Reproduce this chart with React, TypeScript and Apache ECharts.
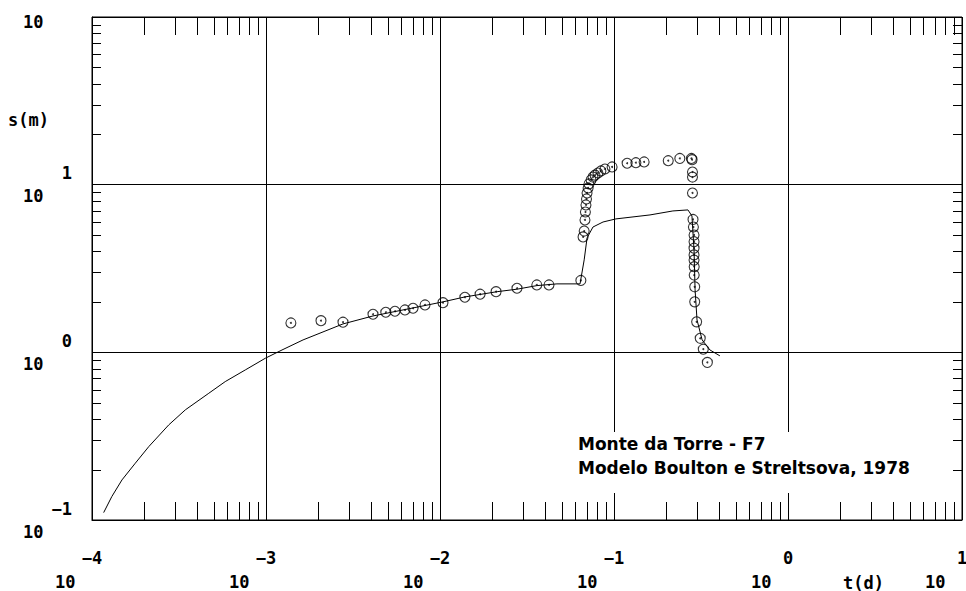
import React, { useEffect, useRef } from "react";
import * as echarts from "echarts";

// Observed drawdown (circles)
const obsT = [0.00139, 0.00207, 0.00277, 0.00412, 0.00488, 0.00551, 0.00629, 0.0070, 0.0082, 0.0104, 0.0139, 0.0170, 0.0210, 0.0277, 0.0360, 0.0423, 0.0645, 0.0664, 0.0674, 0.0681, 0.0685, 0.0690, 0.0695, 0.0700, 0.0710, 0.0718, 0.0738, 0.0757, 0.0778, 0.0809, 0.0841, 0.0887, 0.0975, 0.119, 0.1336, 0.149, 0.205, 0.239, 0.2786, 0.2810, 0.2825, 0.2825, 0.2825, 0.2845, 0.2860, 0.2884, 0.2884, 0.2884, 0.2884, 0.2884, 0.2890, 0.2890, 0.291, 0.291, 0.2985, 0.313, 0.326, 0.344];
const obsS = [1.497, 1.545, 1.512, 1.687, 1.734, 1.758, 1.790, 1.832, 1.917, 1.979, 2.131, 2.221, 2.301, 2.411, 2.523, 2.523, 2.683, 4.88, 5.29, 6.16, 6.87, 7.57, 8.22, 8.92, 9.56, 10.1, 10.67, 11.1, 11.4, 11.74, 12.07, 12.4, 12.75, 13.42, 13.52, 13.66, 13.9, 14.33, 14.33, 14.1, 11.9, 11.1, 8.92, 6.20, 5.59, 5.01, 4.57, 4.18, 3.81, 3.55, 3.24, 2.89, 2.46, 2.00, 1.52, 1.213, 1.044, 0.871];

// Model curve (Boulton & Streltsova)
const modelT = [1.167e-4, 1.30e-4, 1.487e-4, 1.774e-4, 2.12e-4, 2.76e-4, 3.44e-4, 4.69e-4, 5.83e-4, 7.60e-4, 9.91e-4, 1.236e-3, 1.633e-3, 2.77e-3, 4.12e-3, 7.0e-3, 0.0104, 0.0139, 0.0213, 0.0277, 0.036, 0.047, 0.0638, 0.0674, 0.0700, 0.0757, 0.0865, 0.1026, 0.161, 0.218, 0.266, 0.2805, 0.2884, 0.2924, 0.300, 0.321, 0.356, 0.406];
const modelS = [0.1107, 0.138, 0.1734, 0.2182, 0.274, 0.369, 0.454, 0.570, 0.669, 0.785, 0.922, 1.033, 1.186, 1.477, 1.648, 1.84, 2.0, 2.14, 2.30, 2.38, 2.50, 2.56, 2.56, 3.56, 4.81, 5.59, 5.99, 6.25, 6.60, 6.97, 7.07, 6.51, 4.08, 2.36, 1.56, 1.186, 1.033, 0.953];

// Axes
const X_MIN = 1e-4;
const X_MAX = 10;
const Y_MIN = 0.1;
const Y_MAX = 100;
const xDecades = [1e-4, 1e-3, 1e-2, 1e-1, 1];
const yDecades = [0.1, 1, 10];
const minorMultipliers = [2, 3, 4, 5, 6, 7, 8, 9];

const titleLines = ["Monte da Torre - F7", "Modelo Boulton e Streltsova, 1978"];
const xAxisName = "t(d)";
const yAxisName = "s(m)";

const MONO = "'DejaVu Sans Mono', monospace";
const SANS = "'DejaVu Sans', sans-serif";

export default function App() {
  const ref = useRef<HTMLDivElement>(null);

  useEffect(() => {
    if (!ref.current) return;
    const chart = echarts.init(ref.current, null, { renderer: "svg" });

    const obsData = obsT.map((t, i) => [t, obsS[i]]);
    const modelData = modelT.map((t, i) => [t, modelS[i]]);
    const xMinor: number[][] = [];
    xDecades.forEach((d) => minorMultipliers.forEach((m) => xMinor.push([d * m, 1])));
    const yMinor: number[][] = [];
    yDecades.forEach((d) => minorMultipliers.forEach((m) => yMinor.push([0.01, d * m])));

    const crisp = (v: number) => Math.round(v) + 0.5;
    const lineStyle = { stroke: "#000", lineWidth: 1 };

    const option: any = {
      animation: false,
      backgroundColor: "#fff",
      grid: {
        left: 92,
        top: 17,
        right: 4,
        bottom: 71,
        containLabel: false,
        outerBoundsMode: "none",
        show: true,
        borderColor: "#000",
        borderWidth: 1,
        backgroundColor: "transparent",
      },
      xAxis: {
        type: "log",
        logBase: 10,
        min: X_MIN,
        max: X_MAX,
        splitNumber: 5,
        axisLine: { show: true, lineStyle: { color: "#000", width: 1 } },
        axisTick: { show: false },
        splitLine: { show: true, lineStyle: { color: "#000", width: 1 } },
        axisLabel: {
          margin: 26,
          showMinLabel: true,
          showMaxLabel: true,
          hideOverlap: false,
          formatter: (v: number) => {
            const e = Math.round(Math.log10(v));
            const es = e < 0 ? "\u2212" + Math.abs(e) : String(e);
            return `{e|${es}}\n{b|10}`;
          },
          rich: {
            e: { width: 74, align: "center", fontFamily: MONO, fontWeight: "bold", fontSize: 17, lineHeight: 24, color: "#000" },
            b: { width: 74, align: "left", fontFamily: MONO, fontWeight: "bold", fontSize: 17, lineHeight: 24, color: "#000" },
          },
        },
      },
      yAxis: {
        type: "log",
        logBase: 10,
        min: Y_MIN,
        max: Y_MAX,
        splitNumber: 3,
        axisLine: { show: true, lineStyle: { color: "#000", width: 1 } },
        axisTick: { show: false },
        splitLine: { show: true, lineStyle: { color: "#000", width: 1 } },
        axisLabel: {
          margin: 20,
          align: "right",
          showMinLabel: true,
          showMaxLabel: true,
          hideOverlap: false,
          formatter: (v: number) => {
            const e = Math.round(Math.log10(v));
            if (e === 2) return "{t|10}";
            const es = e < 0 ? "\u2212" + Math.abs(e) : String(e);
            return `{e|${es}}\n{b|10}`;
          },
          rich: {
            e: { width: 49, align: "right", fontFamily: MONO, fontWeight: "bold", fontSize: 17, lineHeight: 23, color: "#000" },
            b: { width: 49, align: "left", fontFamily: MONO, fontWeight: "bold", fontSize: 17, lineHeight: 23, color: "#000" },
            t: { width: 49, align: "left", fontFamily: MONO, fontWeight: "bold", fontSize: 17, lineHeight: 23, color: "#000", padding: [10, 0, 0, 0] },
          },
        },
      },
      series: [
        {
          type: "custom",
          name: "xMinorTicks",
          coordinateSystem: "cartesian2d",
          clip: false,
          silent: true,
          data: xMinor,
          renderItem: (params: any, api: any) => {
            const v = api.value(0);
            const b = api.coord([v, Y_MIN]);
            const t = api.coord([v, Y_MAX]);
            const x = crisp(b[0]);
            return {
              type: "group",
              children: [
                { type: "line", shape: { x1: x, y1: b[1], x2: x, y2: b[1] - 18 }, style: lineStyle },
                { type: "line", shape: { x1: x, y1: t[1], x2: x, y2: t[1] + 18 }, style: lineStyle },
              ],
            };
          },
        },
        {
          type: "custom",
          name: "yMinorTicks",
          coordinateSystem: "cartesian2d",
          clip: false,
          silent: true,
          data: yMinor,
          renderItem: (params: any, api: any) => {
            const v = api.value(1);
            const l = api.coord([X_MIN, v]);
            const r = api.coord([X_MAX, v]);
            const y = crisp(l[1]);
            return {
              type: "group",
              children: [
                { type: "line", shape: { x1: l[0], y1: y, x2: l[0] + 9, y2: y }, style: lineStyle },
                { type: "line", shape: { x1: r[0], y1: y, x2: r[0] - 9, y2: y }, style: lineStyle },
              ],
            };
          },
        },
        {
          type: "line",
          name: "Modelo",
          data: modelData,
          showSymbol: false,
          symbol: "none",
          lineStyle: { color: "#000", width: 1 },
          z: 3,
        },
        {
          type: "scatter",
          name: "Observado",
          data: obsData,
          symbol: "circle",
          symbolSize: 10,
          itemStyle: { color: "transparent", borderColor: "#000", borderWidth: 1.1 },
          z: 4,
        },
        {
          type: "scatter",
          name: "ObservadoCentro",
          data: obsData,
          symbol: "circle",
          symbolSize: 2,
          itemStyle: { color: "#000" },
          z: 5,
        },
      ],
      graphic: [
        {
          type: "rect",
          shape: { x: 574, y: 432, width: 344, height: 61 },
          style: { fill: "#fff" },
          z: 10,
        },
        {
          type: "text",
          x: 578,
          y: 443.5,
          z: 11,
          style: { text: titleLines[0], font: `bold 17px ${SANS}`, fill: "#000", textVerticalAlign: "middle" },
        },
        {
          type: "text",
          x: 578,
          y: 468,
          z: 11,
          style: { text: titleLines[1], font: `bold 17px ${SANS}`, fill: "#000", textVerticalAlign: "middle" },
        },
        {
          type: "text",
          x: 8,
          y: 111,
          z: 11,
          style: { text: yAxisName, font: `bold 17px ${MONO}`, fill: "#000", textVerticalAlign: "top" },
        },
        {
          type: "text",
          x: 843,
          y: 574,
          z: 11,
          style: { text: xAxisName, font: `bold 17px ${MONO}`, fill: "#000", textVerticalAlign: "top" },
        },
      ],
    };

    chart.setOption(option);
    return () => chart.dispose();
  }, []);

  return (
    <div
      ref={ref}
      style={{ position: "fixed", left: 0, top: 0, width: 966, height: 591, background: "#fff" }}
    />
  );
}
